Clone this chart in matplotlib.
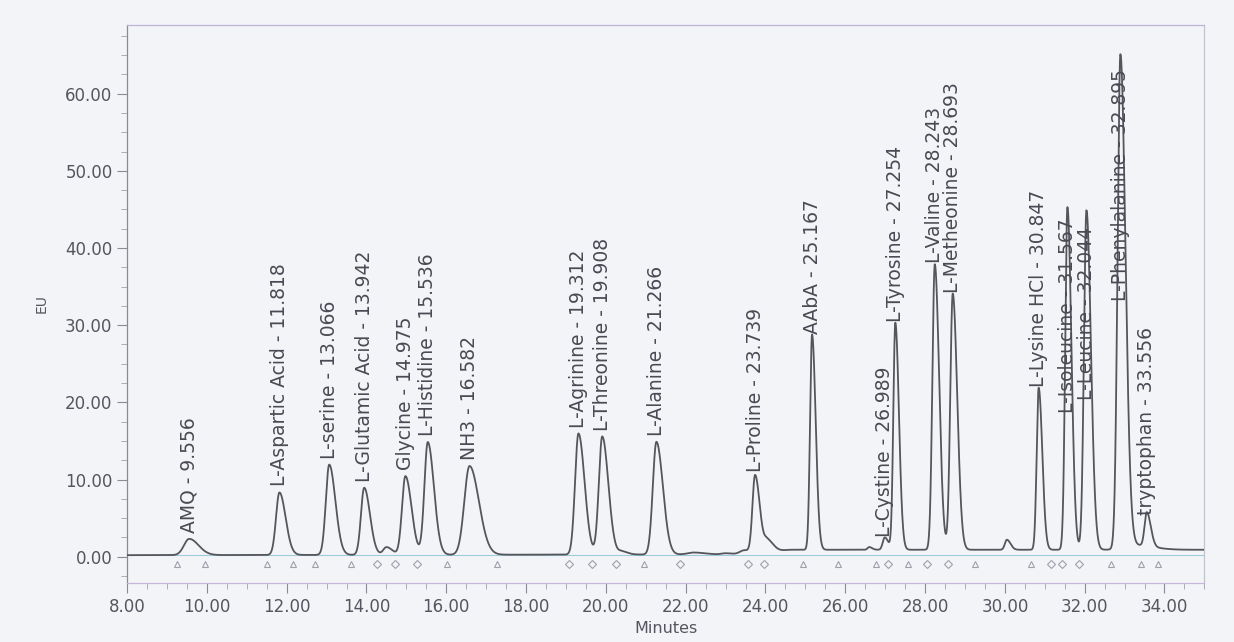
import numpy as np
import matplotlib
matplotlib.use('Agg')
import matplotlib.pyplot as plt
from matplotlib.ticker import MultipleLocator, FormatStrFormatter

plt.rcParams['font.family'] = ['DejaVu Sans']

# Labelled peaks: retention time (min), height (EU), width (min)
peak_names = ['AMQ', 'L-Aspartic Acid', 'L-serine', 'L-Glutamic Acid', 'Glycine',
              'L-Histidine', 'NH3', 'L-Agrinine', 'L-Threonine', 'L-Alanine',
              'L-Proline', 'AAbA', 'L-Cystine', 'L-Tyrosine', 'L-Valine',
              'L-Metheonine', 'L-Lysine HCl', 'L-Isoleucine', 'L-Leucine',
              'L-Phenylalanine', 'tryptophan']
peak_times = [9.556, 11.818, 13.066, 13.942, 14.975, 15.536, 16.582, 19.312, 19.908,
              21.266, 23.739, 25.167, 26.989, 27.254, 28.243, 28.693, 30.847,
              31.567, 32.044, 32.895, 33.556]
peak_heights = [2.1, 8.1, 11.7, 8.7, 10.2, 14.6, 11.5, 15.7, 15.3, 14.6, 10.0,
                27.9, 1.6, 29.4, 37.0, 33.2, 21.0, 44.4, 44.0, 64.0, 4.4]
peak_widths = [0.13, 0.085, 0.085, 0.08, 0.085, 0.085, 0.13, 0.085, 0.085, 0.09,
               0.065, 0.05, 0.05, 0.05, 0.06, 0.062, 0.05, 0.055, 0.062, 0.07, 0.055]

# small unlabelled bumps
minor_times = [14.5, 20.4, 22.2, 23.0, 23.45, 24.05, 26.6, 30.05, 33.25]
minor_heights = [1.0, 0.4, 0.25, 0.15, 0.5, 1.5, 0.35, 1.3, 0.6]
minor_widths = [0.08, 0.08, 0.15, 0.1, 0.1, 0.08, 0.04, 0.05, 0.25]

# baseline drift
base_times = [8.0, 23.4, 24.6, 35.0]
base_levels = [0.2, 0.3, 0.9, 0.9]

# integration marks under the trace
tri_marks = [9.25, 9.96, 11.5, 12.17, 12.72, 13.6, 16.02, 17.28, 20.95, 24.93,
             25.81, 26.77, 27.56, 29.24, 30.66, 32.67, 33.40, 33.85]
dia_marks = [14.27, 14.72, 15.27, 19.07, 19.66, 20.25, 21.85, 23.55, 23.96,
             27.06, 28.05, 28.57, 31.16, 31.43, 31.86]

# where the software put the label foot, when not on the apex
label_override = {'L-Isoleucine': 18.6, 'L-Leucine': 20.3, 'L-Phenylalanine': 33.2}


def peak(t, t0, h, w):
    # tailing peak: wider on the right side
    left = np.exp(-0.5 * ((t - t0) / w) ** 2)
    right = np.exp(-0.5 * ((t - t0) / (1.8 * w)) ** 2)
    return h * np.where(t < t0, left, right)


t = np.linspace(8.0, 35.0, 8000)
signal = np.interp(t, base_times, base_levels)
for t0, h, w in zip(peak_times + minor_times, peak_heights + minor_heights,
                    peak_widths + minor_widths):
    signal = signal + peak(t, t0, h, w)

bg = '#f3f4f7'
fig = plt.figure(figsize=(12.34, 6.42), dpi=100, facecolor=bg)
ax = fig.add_axes([0.103, 0.092, 0.873, 0.869], facecolor=bg)

ax.axhline(0.2, color='#9fcbd8', lw=0.8, zorder=1)
ax.plot(t, signal, color='#55555c', lw=1.3, zorder=3)

ax.plot(tri_marks, [-1.0] * len(tri_marks), linestyle='none', marker='^',
        markersize=5, markerfacecolor='none', markeredgecolor='#a0a0aa', mew=0.8)
ax.plot(dia_marks, [-1.0] * len(dia_marks), linestyle='none', marker='D',
        markersize=4.5, markerfacecolor='none', markeredgecolor='#a0a0aa', mew=0.8)

for name, t0, h in zip(peak_names, peak_times, peak_heights):
    y = label_override.get(name, h + 1.0)
    ax.text(t0, y, f'{name} - {t0:.3f}', rotation=90, ha='center', va='bottom',
            fontsize=13.5, color='#4a4a54', zorder=4)

ax.set_xlim(8.0, 35.0)
ax.set_ylim(-3.4, 68.9)
ax.xaxis.set_major_locator(MultipleLocator(2))
ax.xaxis.set_minor_locator(MultipleLocator(0.5))
ax.yaxis.set_major_locator(MultipleLocator(10))
ax.yaxis.set_minor_locator(MultipleLocator(2.5))
ax.xaxis.set_major_formatter(FormatStrFormatter('%.2f'))
ax.yaxis.set_major_formatter(FormatStrFormatter('%.2f'))
ax.tick_params(which='major', length=7, width=0.8, color='#8a8a95',
               labelsize=12, labelcolor='#55555f')
ax.tick_params(which='minor', length=4, width=0.6, color='#a0a0aa')

ax.spines['top'].set_color('#bcb4d8')
ax.spines['bottom'].set_color('#c6b6d8')
ax.spines['left'].set_color('#8a8a95')
ax.spines['right'].set_color('#c4c4cc')
for s in ax.spines.values():
    s.set_linewidth(0.9)

ax.set_xlabel('Minutes', fontsize=11.5, color='#55555f', labelpad=4)
ax.set_ylabel('EU', fontsize=10, color='#55555f', labelpad=12)

plt.savefig('out.png', dpi=100, facecolor=bg)
